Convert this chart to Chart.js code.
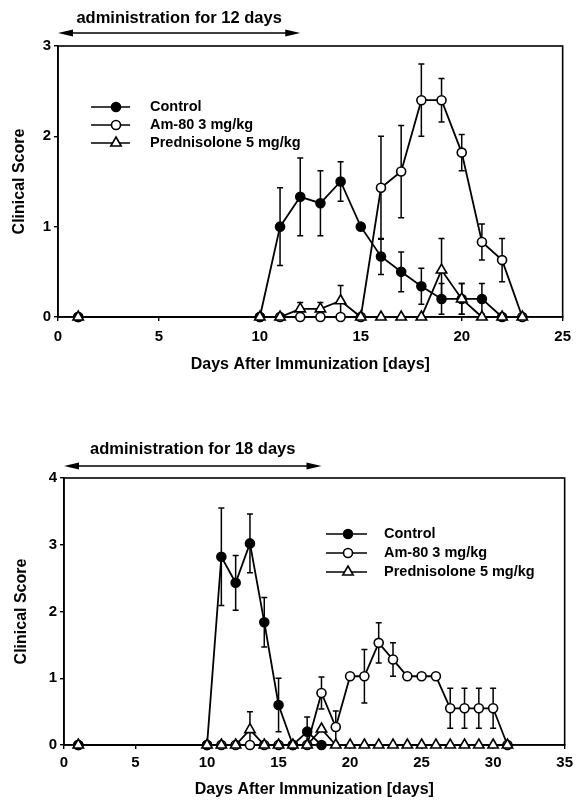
<!DOCTYPE html>
<html><head><meta charset="utf-8">
<script src="https://cdn.jsdelivr.net/npm/chart.js@4/dist/chart.umd.min.js"></script>
<style>
html,body{margin:0;padding:0;background:#fff;width:578px;height:805px;overflow:hidden;}
canvas{position:absolute;left:0;}
#c1{top:0;}
#c2{top:400px;}
</style></head><body>
<canvas id="c1" width="578" height="380"></canvas>
<canvas id="c2" width="578" height="405"></canvas>
<script>
// ---------- data ----------
const seriesNames = ['Control', 'Am-80 3 mg/kg', 'Prednisolone 5 mg/kg'];
const xTitle = 'Days After Immunization [days]';
const yTitle = 'Clinical Score';

// Panel A: administration for 12 days
const adminDaysA = 12;
const daysA      = [1, 10, 11, 12, 13, 14, 15, 16, 17, 18, 19, 20, 21, 22, 23];
const controlA   = [0, 0, 1.0, 1.33, 1.26, 1.5, 1.0, 0.67, 0.5, 0.34, 0.2, 0.2, 0.2, 0, null];
const controlErrA= [0, 0, 0.43, 0.43, 0.36, 0.22, 0, 0.2, 0.22, 0.2, 0.17, 0.17, 0.17, 0, 0];
const am80A      = [0, 0, 0, 0, 0, 0, 0, 1.43, 1.61, 2.4, 2.4, 1.82, 0.83, 0.63, 0];
const am80ErrA   = [0, 0, 0, 0, 0, 0, 0, 0.57, 0.51, 0.4, 0.24, 0.2, 0.2, 0.24, 0];
const predA      = [0, 0, 0, 0.09, 0.09, 0.18, 0, 0, 0, 0, 0.52, 0.2, 0, 0, 0];
const predErrA   = [0, 0, 0, 0.07, 0.07, 0.17, 0, 0, 0, 0, 0.35, 0.17, 0, 0, 0];
const xTicksA = [0, 5, 10, 15, 20, 25];
const yTicksA = [0, 1, 2, 3];

// Panel B: administration for 18 days
const adminDaysB = 18;
const daysB      = [1, 10, 11, 12, 13, 14, 15, 16, 17, 18, 19, 20, 21, 22, 23, 24, 25, 26, 27, 28, 29, 30, 31];
const controlB   = [0, 0, 2.82, 2.43, 3.02, 1.84, 0.6, 0, 0.2, 0, null, null, null, null, null, null, null, null, null, null, null, null, null];
const controlErrB= [0, 0, 0.73, 0.41, 0.44, 0.37, 0.4, 0, 0.22, 0, 0, 0, 0, 0, 0, 0, 0, 0, 0, 0, 0, 0, 0];
const am80B      = [0, 0, 0, 0, 0, 0, 0, 0, 0, 0.78, 0.27, 1.03, 1.03, 1.53, 1.28, 1.03, 1.03, 1.03, 0.55, 0.55, 0.55, 0.55, 0];
const am80ErrB   = [0, 0, 0, 0, 0, 0, 0, 0, 0, 0.24, 0.24, 0, 0.4, 0.3, 0.25, 0, 0, 0, 0.3, 0.3, 0.3, 0.3, 0];
const predB      = [0, 0, 0, 0, 0.23, 0, 0, 0, 0, 0.24, 0, 0, 0, 0, 0, 0, 0, 0, 0, 0, 0, 0, 0];
const predErrB   = [0, 0, 0, 0, 0.27, 0, 0, 0, 0, 0, 0, 0, 0, 0, 0, 0, 0, 0, 0, 0, 0, 0, 0];
const xTicksB = [0, 5, 10, 15, 20, 25, 30, 35];
const yTicksB = [0, 1, 2, 3, 4];

// ---------- styling ----------
const FONT = "'Liberation Sans', Arial, Helvetica, sans-serif";
const pts = (days, vals) => days.map((d, i) => ({x: d, y: vals[i]}));

function datasets(days, c, cE, a, aE, p, pE) {
  const base = {borderColor: '#000', borderWidth: 1.8, pointBorderColor: '#000',
    pointBorderWidth: 1.6, tension: 0, clip: false, spanGaps: false};
  return [
    Object.assign({}, base, {label: seriesNames[0], data: pts(days, c), errors: cE,
      pointStyle: 'circle', pointRadius: 4.5, pointBackgroundColor: '#000', order: 1}),
    Object.assign({}, base, {label: seriesNames[1], data: pts(days, a), errors: aE,
      pointStyle: 'circle', pointRadius: 4.5, pointBackgroundColor: '#fff', order: 2}),
    Object.assign({}, base, {label: seriesNames[2], data: pts(days, p), errors: pE,
      pointStyle: 'triangle', pointRadius: 6, pointBackgroundColor: '#fff', order: 0})
  ];
}

const errorBars = {
  id: 'errorBars',
  beforeDatasetsDraw(chart) {
    const {ctx, scales: {x, y}} = chart;
    ctx.save();
    const a = chart.chartArea;
    ctx.strokeStyle = '#000'; ctx.lineWidth = 1.6;
    ctx.strokeRect(a.left, a.top, a.right - a.left, a.bottom - a.top);
    ctx.lineWidth = 1.5;
    chart.data.datasets.forEach(ds => {
      if (!ds.errors) return;
      ds.data.forEach((p, j) => {
        const e = ds.errors[j];
        if (p.y == null || !e) return;
        const px = x.getPixelForValue(p.x);
        const top = y.getPixelForValue(p.y + e);
        const bot = y.getPixelForValue(Math.max(0, p.y - e));
        ctx.beginPath();
        ctx.moveTo(px, top); ctx.lineTo(px, bot);
        ctx.moveTo(px - 3, top); ctx.lineTo(px + 3, top);
        ctx.moveTo(px - 3, bot); ctx.lineTo(px + 3, bot);
        ctx.stroke();
      });
    });
    ctx.restore();
  }
};

function marker(ctx, style, fill, r, x, y) {
  ctx.beginPath();
  if (style === 'triangle') {
    let rad = 0;
    ctx.moveTo(x + Math.sin(rad) * r, y - Math.cos(rad) * r);
    rad += Math.PI * 2 / 3;
    ctx.lineTo(x + Math.sin(rad) * r, y - Math.cos(rad) * r);
    rad += Math.PI * 2 / 3;
    ctx.lineTo(x + Math.sin(rad) * r, y - Math.cos(rad) * r);
    ctx.closePath();
  } else {
    ctx.arc(x, y, r, 0, Math.PI * 2);
  }
  ctx.fillStyle = fill; ctx.fill();
  ctx.lineWidth = 1.6; ctx.strokeStyle = '#000'; ctx.stroke();
}

const decor = {
  id: 'decor',
  afterDraw(chart, args, o) {
    const {ctx, scales: {x}} = chart;
    ctx.save();
    const x0 = x.getPixelForValue(0), x1 = x.getPixelForValue(o.arrowTo);
    ctx.strokeStyle = '#000'; ctx.fillStyle = '#000'; ctx.lineWidth = 1.6;
    ctx.beginPath(); ctx.moveTo(x0 + 4, o.arrowY); ctx.lineTo(x1 - 4, o.arrowY); ctx.stroke();
    const head = (tip, dir) => {
      ctx.beginPath();
      ctx.moveTo(tip, o.arrowY);
      ctx.lineTo(tip + dir * 15, o.arrowY - 3.5);
      ctx.lineTo(tip + dir * 15, o.arrowY + 3.5);
      ctx.closePath(); ctx.fill();
    };
    head(x0, 1); head(x1, -1);
    ctx.font = 'bold 16.5px ' + FONT;
    ctx.textAlign = 'center'; ctx.textBaseline = 'middle';
    ctx.fillText(o.title, (x0 + x1) / 2, o.titleY);
    ctx.font = 'bold 14.5px ' + FONT;
    ctx.textAlign = 'left';
    chart.data.datasets.forEach((ds, i) => {
      const y = o.legY + i * o.legGap;
      ctx.strokeStyle = '#000'; ctx.lineWidth = 1.3;
      ctx.beginPath(); ctx.moveTo(o.legX1, y); ctx.lineTo(o.legX2, y); ctx.stroke();
      marker(ctx, ds.pointStyle, ds.pointBackgroundColor, ds.pointRadius, o.legMark, y);
      ctx.fillStyle = '#000';
      ctx.fillText(ds.label, o.legText, y);
    });
    ctx.restore();
  }
};

function scales(xMax, yMax, xTicks, yTicks, yW, xH, xPad, yTitlePad) {
  const tickFont = {family: FONT, size: 15, weight: 'bold'};
  const titleFont = {family: FONT, size: 16, weight: 'bold'};
  return {
    x: {type: 'linear', min: 0, max: xMax,
      afterBuildTicks(s) { s.ticks = xTicks.map(v => ({value: v})); },
      ticks: {color: '#000', font: tickFont, padding: xPad, maxRotation: 0, autoSkip: false},
      grid: {drawOnChartArea: false, tickLength: 4, color: '#000', lineWidth: 1.4},
      border: {color: '#000', width: 1.6},
      title: {display: true, text: xTitle, color: '#000', font: titleFont, padding: {top: 0, bottom: 5.4}},
      afterFit(s) { s.height = xH; }
    },
    y: {type: 'linear', min: 0, max: yMax,
      afterBuildTicks(s) { s.ticks = yTicks.map(v => ({value: v})); },
      ticks: {color: '#000', font: tickFont, padding: 3},
      grid: {drawOnChartArea: false, tickLength: 4, color: '#000', lineWidth: 1.4},
      border: {color: '#000', width: 1.6},
      title: {display: true, text: yTitle, color: '#000', font: titleFont, padding: {top: yTitlePad, bottom: 0}},
      afterFit(s) { s.width = yW; }
    }
  };
}

function makeChart(id, ds, xMax, yMax, xTicks, yTicks, geo, deco) {
  return new Chart(document.getElementById(id), {
    type: 'line',
    data: {datasets: ds},
    options: {
      responsive: false, animation: false, devicePixelRatio: 1,
      layout: {padding: {top: geo.top, right: geo.right, left: 0, bottom: 0}},
      scales: scales(xMax, yMax, xTicks, yTicks, geo.yW, geo.xH, geo.xPad, geo.yTitlePad),
      plugins: {legend: {display: false}, tooltip: {enabled: false}, decor: deco}
    },
    plugins: [errorBars, decor]
  });
}

makeChart('c1', datasets(daysA, controlA, controlErrA, am80A, am80ErrA, predA, predErrA),
  25, 3, xTicksA, yTicksA,
  {top: 46, right: 12, yW: 58, xH: 63, xPad: 7, yTitlePad: 9.5},
  {title: 'administration for ' + adminDaysA + ' days', arrowTo: adminDaysA, arrowY: 33, titleY: 18,
   legX1: 91, legX2: 130, legMark: 116, legText: 150, legY: 107, legGap: 18});

makeChart('c2', datasets(daysB, controlB, controlErrB, am80B, am80ErrB, predB, predErrB),
  35, 4, xTicksB, yTicksB,
  {top: 78, right: 9, yW: 64, xH: 60, xPad: 5, yTitlePad: 12},
  {title: 'administration for ' + adminDaysB + ' days', arrowTo: adminDaysB, arrowY: 66, titleY: 49,
   legX1: 326, legX2: 367, legMark: 348, legText: 384, legY: 134, legGap: 19});
</script>
</body></html>
